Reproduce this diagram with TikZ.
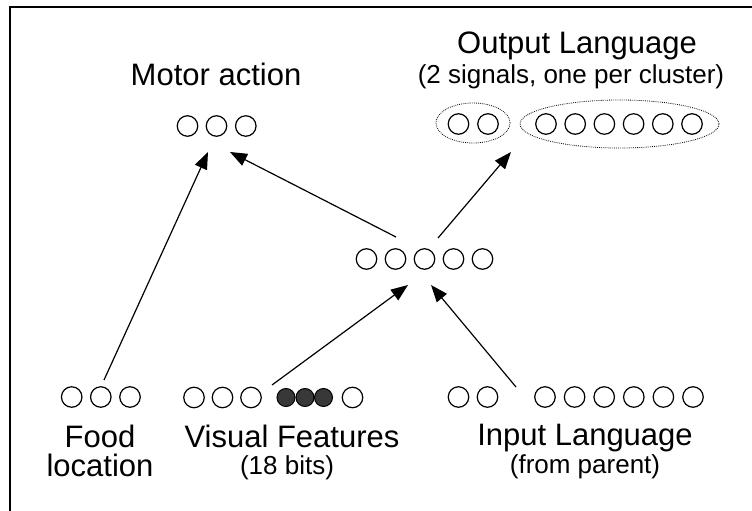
\documentclass[tikz,border=0pt]{standalone}
\usepackage{fontspec}
\setmainfont{Liberation Sans}
\usetikzlibrary{arrows.meta,shapes.geometric}

\tikzset{
  unit/.style={circle,draw,line width=1.2pt,minimum size=20.5pt,inner sep=0pt},
  onunit/.style={circle,draw,line width=1pt,fill=black!78,minimum size=18pt,inner sep=0pt},
  cluster/.style={ellipse,draw,line width=0.8pt,dash pattern=on 0.8pt off 1.1pt,inner sep=0pt},
  flow/.style={line width=1.2pt,-{Triangle[length=17pt,width=13pt]}},
  biglbl/.style={font=\fontsize{31}{34}\selectfont,anchor=base,inner sep=0pt},
  smalllbl/.style={font=\fontsize{26}{30}\selectfont,anchor=base,inner sep=0pt},
}

\begin{document}
\begin{tikzpicture}[x=1pt,y=-1pt]
    \useasboundingbox (0,0) rectangle (752,511);
    \begin{scope}
        \clip (0,0) rectangle (752,511);
        \draw[line width=2pt] (10,7) rectangle (770,530);
    \end{scope}

    % motor output
    \node[biglbl] (motorlbl) at (216,85) {Motor action};
    \foreach \i/\x in {1/187.5,2/216.5,3/245.8}
        \node[unit] (m\i) at (\x,126) {};

    % language output, two clusters
    \node[biglbl] (outlbl) at (577,53) {Output Language};
    \node[smalllbl] (outnote) at (571,84) {(2 signals, one per cluster)};
    \node[cluster,minimum width=74pt,minimum height=40pt] (oc1) at (473,123) {};
    \node[cluster,minimum width=199pt,minimum height=48pt] (oc2) at (619.5,124) {};
    \foreach \i/\x in {1/458.5,2/488}
        \node[unit] (o\i) at (\x,124) {};
    \foreach \k in {0,...,5}
        \node[unit] (o\the\numexpr\k+3\relax) at (546+29.2*\k,124) {};

    % hidden layer
    \foreach \i/\x in {1/366.5,2/395.5,3/424.5,4/453.5,5/482.5}
        \node[unit] (h\i) at (\x,259) {};

    % inputs
    \foreach \i/\x in {1/71.7,2/100.8,3/130}
        \node[unit] (f\i) at (\x,397) {};
    \node[biglbl] (foodlbl) at (100,447) {Food};
    \node[biglbl] (foodlbl2) at (100,476) {location};

    \foreach \i/\x in {1/194,2/222.5,3/251,7/352.5}
        \node[unit] (v\i) at (\x,397.5) {};
    \foreach \i/\x in {4/286,5/305,6/323.5}
        \node[onunit] (v\i) at (\x,397.5) {};
    \node[biglbl] (vislbl) at (292,447) {Visual Features};
    \node[smalllbl] (visnote) at (287,474) {(18 bits)};

    \foreach \i/\x in {1/458.5,2/487.5}
        \node[unit] (i\i) at (\x,397) {};
    \foreach \k in {0,...,5}
        \node[unit] (i\the\numexpr\k+3\relax) at (545+29.6*\k,397) {};
    \node[biglbl] (inlbl) at (585,445) {Input Language};
    \node[smalllbl] (innote) at (585,473) {(from parent)};

    % connection ends
    \coordinate (foodout) at (104,380);
    \coordinate (visout) at (272,385);
    \coordinate (inout) at (516,387);
    \coordinate (hidin1) at (408,285);
    \coordinate (hidin2) at (431,285);
    \coordinate (hidout1) at (396,237);
    \coordinate (hidout2) at (438,238);
    \coordinate (motorin1) at (208,152);
    \coordinate (motorin2) at (230,152);
    \coordinate (outin) at (511,152);

    \draw[flow] (foodout) -- (motorin1);
    \draw[flow] (hidout1) -- (motorin2);
    \draw[flow] (hidout2) -- (outin);
    \draw[flow] (visout) -- (hidin1);
    \draw[flow] (inout) -- (hidin2);
\end{tikzpicture}
\end{document}
